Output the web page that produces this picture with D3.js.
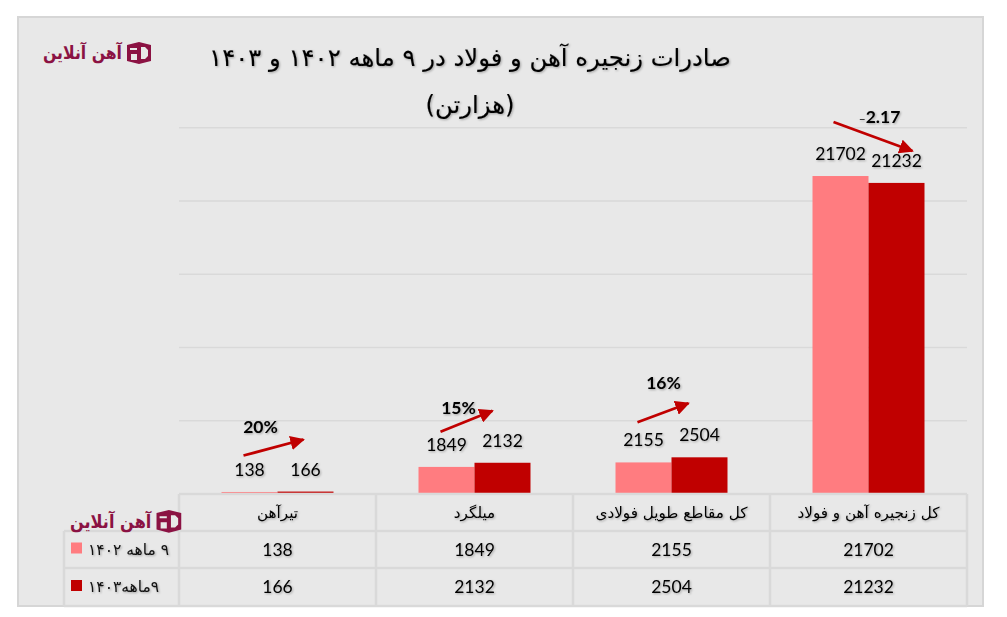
<!DOCTYPE html>
<html lang="fa">
<head>
<meta charset="utf-8">
<script src="https://cdn.jsdelivr.net/npm/d3@7"></script>
<style>
  html, body { margin: 0; background: #fff; }
  svg { display: block; }
  .fa { font-family: "DejaVu Sans", sans-serif; direction: rtl; }
  .num { font-family: "Lato", "Open Sans", sans-serif; }
  .soft { filter: drop-shadow(1px 1px 1px rgba(0,0,0,.3)); }
</style>
</head>
<body>
<svg id="chart" width="1007" height="617"></svg>
<script>
// داده‌ها
const categories = ["تیرآهن", "میلگرد", "کل مقاطع طویل فولادی", "کل زنجیره آهن و فولاد"];
const seriesNames = ["۹ ماهه ۱۴۰۲", "۹ماهه۱۴۰۳"];
const values1402 = [138, 1849, 2155, 21702];
const values1403 = [166, 2132, 2504, 21232];
const changeLabels = ["20%", "15%", "16%", "2.17"];
const yTicks = [0, 5000, 10000, 15000, 20000, 25000];
const titleLines = ["صادرات زنجیره آهن و فولاد در ۹ ماهه ۱۴۰۲ و ۱۴۰۳", "(هزارتن)"];
const logoText = "آهن آنلاین";

const colors = ["#ff7c80", "#c00000"];
const gridColor = "#d9d9d9";
const plot = { left: 179, right: 967, top: 127.7, bottom: 494 };
const rowBottoms = [531, 568, 606];

const svg = d3.select("#chart");

// پس زمینه
svg.append("rect")
  .attr("x", 18).attr("y", 17).attr("width", 965).attr("height", 589)
  .attr("fill", "#e8e8e8").attr("stroke", "#d6d6d6").attr("stroke-width", 2);

const x = d3.scaleBand().domain(d3.range(categories.length)).range([plot.left, plot.right]);
const xInner = d3.scaleBand().domain([0, 1]).range([42.5, x.bandwidth() - 42.5]);
const y = d3.scaleLinear().domain([0, 25000]).range([plot.bottom, plot.top]);

// خطوط راهنما
svg.append("g").selectAll("line").data(yTicks).join("line")
  .attr("x1", plot.left).attr("x2", plot.right)
  .attr("y1", d => y(d)).attr("y2", d => y(d))
  .attr("stroke", gridColor).attr("stroke-width", 1.5);

// میله ها
[values1402, values1403].forEach((vals, s) => {
  svg.append("g").selectAll("rect").data(vals).join("rect")
    .attr("x", (d, i) => x(i) + xInner(s))
    .attr("y", d => y(d))
    .attr("width", xInner.bandwidth())
    .attr("height", d => y(0) - y(d))
    .attr("fill", colors[s]);

  svg.append("g").selectAll("text").data(vals).join("text")
    .attr("class", "num soft")
    .attr("x", (d, i) => x(i) + xInner(s) + xInner.bandwidth() / 2)
    .attr("y", d => y(d) - 16)
    .attr("text-anchor", "middle")
    .attr("font-size", 17.5)
    .attr("fill", "#000")
    .text(d => d);
});

// جدول زیر نمودار
const table = svg.append("g").attr("stroke", gridColor).attr("stroke-width", 2.5).attr("fill", "none");
[plot.bottom, ...rowBottoms].forEach((ry, i) => {
  table.append("line")
    .attr("x1", i === 0 ? plot.left : 64).attr("x2", plot.right)
    .attr("y1", ry).attr("y2", ry);
});
d3.range(categories.length + 1).forEach(i => {
  const vx = i < categories.length ? x(i) : plot.right;
  table.append("line").attr("x1", vx).attr("x2", vx).attr("y1", plot.bottom).attr("y2", rowBottoms[2]);
});
table.append("line").attr("x1", 64).attr("x2", 64).attr("y1", rowBottoms[0]).attr("y2", rowBottoms[2]);

const rowMid = (i) => ((i === 0 ? plot.bottom : rowBottoms[i - 1]) + rowBottoms[i]) / 2;

svg.append("g").selectAll("text").data(categories).join("text")
  .attr("class", "fa soft")
  .attr("x", (d, i) => x(i) + x.bandwidth() / 2)
  .attr("y", rowMid(0) + 5)
  .attr("text-anchor", "middle")
  .attr("font-size", 15.2)
  .attr("fill", "#000")
  .text(d => d);

[values1402, values1403].forEach((vals, s) => {
  svg.append("g").selectAll("text").data(vals).join("text")
    .attr("class", "num soft")
    .attr("x", (d, i) => x(i) + x.bandwidth() / 2)
    .attr("y", rowMid(s + 1) + 6)
    .attr("text-anchor", "middle")
    .attr("font-size", 17.5)
    .attr("fill", "#000")
    .text(d => d);

  svg.append("rect")
    .attr("x", 71).attr("y", rowMid(s + 1) - 7)
    .attr("width", 11).attr("height", 11)
    .attr("fill", colors[s]);

  svg.append("text")
    .attr("class", "fa soft")
    .attr("x", 88).attr("y", rowMid(s + 1) + 5)
    .attr("text-anchor", "start")
    .attr("style", "direction:ltr;unicode-bidi:plaintext")
    .attr("font-size", 15.5)
    .attr("fill", "#111")
    .text(seriesNames[s]);
});

// عنوان
titleLines.forEach((t, i) => {
  svg.append("text")
    .attr("class", "fa soft")
    .attr("x", 470).attr("y", 66 + i * 47)
    .attr("text-anchor", "middle")
    .attr("font-size", 24.3)
    .attr("fill", "#000")
    .attr("stroke", "#000").attr("stroke-width", 0.12)
    .text(t);
});

// فلش ها و درصد تغییر
svg.append("defs").append("marker")
  .attr("id", "head").attr("viewBox", "0 0 10 10")
  .attr("refX", 9).attr("refY", 5)
  .attr("markerWidth", 5.4).attr("markerHeight", 5.4)
  .attr("markerUnits", "strokeWidth").attr("orient", "auto")
  .append("path").attr("d", "M0,0L10,5L0,10Z").attr("fill", colors[1]);

// offsets from each band centre / top of the taller bar
const arrowLayout = [
  { x1: -34, y1: -35, x2: 26, y2: -51, lx: -17, ly: -58 },
  { x1: -34, y1: -30, x2: 18, y2: -51, lx: -16, ly: -48 },
  { x1: -34, y1: -34, x2: 17, y2: -53, lx: -8, ly: -67 },
  { x1: -35, y1: -53, x2: 44, y2: -24, lx: 11, ly: -52 }
];
categories.forEach((c, i) => {
  const cx = x(i) + x.bandwidth() / 2;
  const top = y(Math.max(values1402[i], values1403[i])) - 1;
  const a = arrowLayout[i];
  svg.append("line")
    .attr("x1", cx + a.x1).attr("y1", top + a.y1)
    .attr("x2", cx + a.x2).attr("y2", top + a.y2)
    .attr("stroke", colors[1]).attr("stroke-width", 2.7)
    .attr("marker-end", "url(#head)");
  const label = svg.append("text")
    .attr("class", "num soft")
    .attr("x", cx + a.lx).attr("y", top + a.ly)
    .attr("text-anchor", "middle")
    .attr("font-size", 17.5).attr("font-weight", 700)
    .attr("fill", "#000");
  if (i === 3) label.append("tspan").attr("font-size", 12).attr("font-weight", 400).text("–");
  label.append("tspan").text(changeLabels[i]);
});

// لوگو
function drawLogo(ox, oy, s) {
  const g = svg.append("g").attr("transform", `translate(${ox},${oy}) scale(${s})`);
  g.append("text")
    .attr("class", "fa")
    .attr("x", 79).attr("y", 17)
    .attr("font-size", 18).attr("font-weight", 700)
    .attr("fill", "#8b1243")
    .attr("text-anchor", "start")
    .attr("textLength", 79).attr("lengthAdjust", "spacingAndGlyphs")
    .text(logoText);
  g.append("path")
    .attr("d", "M84,3L96,0L108,3V19L96,22L84,19Z")
    .attr("fill", "#8b1243");
  g.append("path")
    .attr("d", "M87,6H94V8H87ZM88,12H94V18H88ZM98,5H102L105,8V14L102,17H98Z")
    .attr("fill", "#e8e8e8");
}
drawLogo(43, 42, 1);
drawLogo(70, 510, 1.03);
</script>
</body>
</html>
